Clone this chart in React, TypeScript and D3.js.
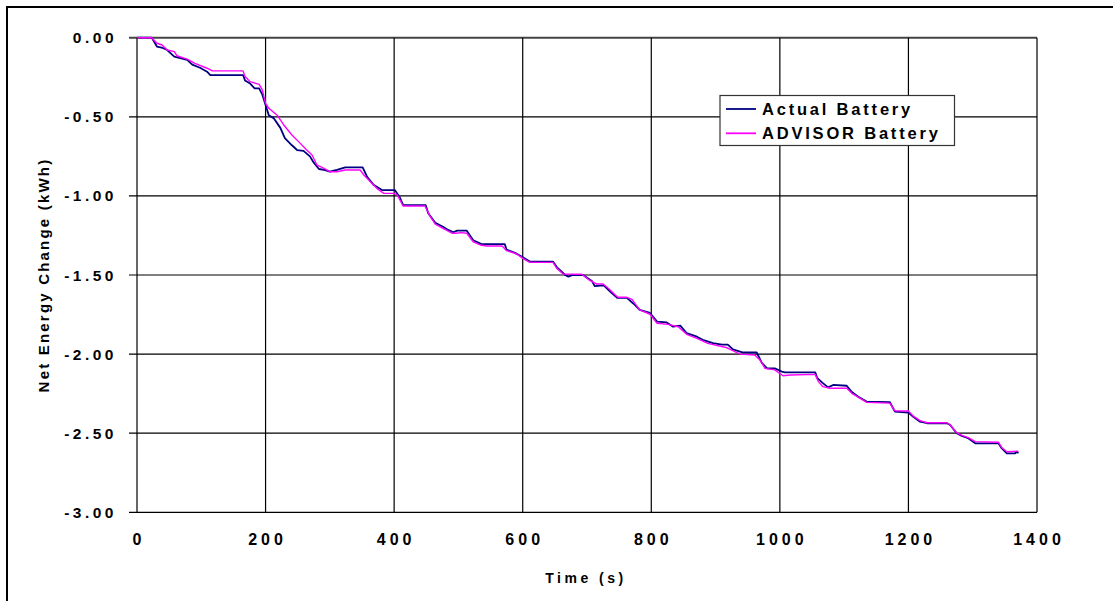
import React from "react";
import * as d3 from "d3";

const actualTime = [0,23,31,40,47,58,78,86,98,109,114,165,168,176,183,190,195,200,205,213,223,230,241,249,259,269,275,283,291,300,311,324,351,358,368,381,401,409,414,449,453,464,476,484,492,498,513,523,536,572,575,588,599,611,647,653,666,671,678,694,708,712,726,736,747,762,772,782,798,809,824,834,845,855,871,880,896,910,919,927,943,964,972,980,992,1003,1008,1055,1058,1066,1075,1083,1104,1112,1122,1135,1171,1179,1200,1207,1218,1229,1260,1265,1275,1283,1293,1304,1340,1345,1353,1366,1369,1371];
const actualEnergy = [0,0,-0.056,-0.065,-0.078,-0.12,-0.14,-0.17,-0.19,-0.215,-0.236,-0.236,-0.27,-0.29,-0.32,-0.32,-0.36,-0.425,-0.49,-0.51,-0.57,-0.635,-0.68,-0.71,-0.715,-0.75,-0.79,-0.83,-0.835,-0.847,-0.836,-0.82,-0.82,-0.88,-0.93,-0.963,-0.963,-1.01,-1.058,-1.058,-1.11,-1.17,-1.195,-1.215,-1.23,-1.22,-1.22,-1.28,-1.305,-1.305,-1.34,-1.36,-1.385,-1.415,-1.415,-1.45,-1.5,-1.51,-1.5,-1.5,-1.54,-1.57,-1.565,-1.605,-1.645,-1.645,-1.68,-1.72,-1.74,-1.795,-1.8,-1.827,-1.82,-1.867,-1.89,-1.91,-1.93,-1.94,-1.94,-1.97,-1.99,-1.99,-2.055,-2.09,-2.09,-2.11,-2.115,-2.115,-2.15,-2.18,-2.21,-2.195,-2.2,-2.24,-2.27,-2.3,-2.303,-2.364,-2.37,-2.395,-2.427,-2.437,-2.437,-2.448,-2.5,-2.517,-2.532,-2.564,-2.564,-2.595,-2.627,-2.627,-2.617,-2.627];

const advisorTime = [0,23,31,39,47,58,62,78,90,109,117,165,168,176,190,195,200,205,218,228,241,254,264,272,280,288,300,311,324,347,353,363,373,384,400,405,414,448,456,464,476,490,495,505,513,523,534,544,568,575,591,600,611,647,653,663,692,702,715,725,733,744,748,762,770,782,798,809,826,842,855,871,888,918,938,961,969,977,992,1005,1016,1055,1060,1067,1078,1104,1112,1125,1135,1171,1179,1200,1207,1218,1229,1260,1265,1275,1283,1293,1304,1340,1345,1353,1371];
const advisorEnergy = [0,0,-0.035,-0.046,-0.078,-0.088,-0.114,-0.135,-0.162,-0.193,-0.21,-0.21,-0.246,-0.278,-0.295,-0.33,-0.415,-0.446,-0.49,-0.55,-0.615,-0.668,-0.71,-0.74,-0.805,-0.82,-0.847,-0.847,-0.836,-0.836,-0.868,-0.91,-0.952,-0.984,-0.984,-0.995,-1.064,-1.064,-1.13,-1.178,-1.205,-1.236,-1.236,-1.232,-1.236,-1.29,-1.31,-1.317,-1.317,-1.346,-1.367,-1.395,-1.42,-1.42,-1.458,-1.494,-1.495,-1.527,-1.557,-1.557,-1.584,-1.626,-1.641,-1.641,-1.654,-1.72,-1.748,-1.805,-1.812,-1.827,-1.875,-1.9,-1.932,-1.96,-2.0,-2.006,-2.037,-2.09,-2.1,-2.137,-2.132,-2.128,-2.174,-2.206,-2.216,-2.216,-2.248,-2.28,-2.305,-2.31,-2.358,-2.36,-2.39,-2.42,-2.434,-2.434,-2.448,-2.497,-2.514,-2.528,-2.553,-2.557,-2.59,-2.617,-2.613];

const xTicks = [0, 200, 400, 600, 800, 1000, 1200, 1400];
const yTicks = [0, -0.5, -1, -1.5, -2, -2.5, -3];
const seriesNames = ["Actual Battery", "ADVISOR Battery"];
const seriesColors = ["#000080", "#FF00FF"];

export default function App() {
  const W = 1113, H = 601;
  const x = d3.scaleLinear().domain([0, 1400]).range([137, 1037]);
  const y = d3.scaleLinear().domain([0, -3]).range([37.7, 512.3]);
  const line = d3
    .line<[number, number]>()
    .x((d) => x(d[0]))
    .y((d) => y(d[1]));
  const actual: [number, number][] = actualTime.map((t, i) => [t, actualEnergy[i]]);
  const advisor: [number, number][] = advisorTime.map((t, i) => [t, advisorEnergy[i]]);
  const font = "'Liberation Sans', Arial, sans-serif";

  return (
    <svg
      width={W}
      height={H}
      style={{ position: "absolute", left: 0, top: 0, background: "#fff" }}
    >
      <rect x={0} y={0} width={W} height={H} fill="#fff" />
      <path d={`M7,${H + 5} L7,7 L${W + 5},7`} fill="none" stroke="#000" strokeWidth={2} />

      {yTicks.map((t) => (
        <g key={"y" + t}>
          <line x1={129} x2={1037} y1={y(t)} y2={y(t)} stroke={t === 0 ? "#444" : "#000"} strokeWidth={t === 0 ? 2 : 1.2} />
          <text
            x={117}
            y={y(t) + 5.5}
            textAnchor="end"
            fontFamily={font}
            fontWeight="bold"
            fontSize={15.5}
            letterSpacing={3.5}
            fill="#000"
          >
            {t.toFixed(2)}
          </text>
        </g>
      ))}

      {xTicks.map((t) => (
        <g key={"x" + t}>
          <line x1={x(t)} x2={x(t)} y1={y(0)} y2={y(-3)} stroke="#000" strokeWidth={1.2} />
          <text
            x={x(t) + 2}
            y={545}
            textAnchor="middle"
            fontFamily={font}
            fontWeight="bold"
            fontSize={16}
            letterSpacing={4}
            fill="#000"
          >
            {t}
          </text>
        </g>
      ))}

      <path d={line(actual) || ""} fill="none" stroke={seriesColors[0]} strokeWidth={1.8} strokeLinejoin="round" />
      <path d={line(advisor) || ""} fill="none" stroke={seriesColors[1]} strokeWidth={1.4} strokeLinejoin="round" />

      <rect x={720} y={95.5} width={234.5} height={50} fill="#fff" stroke="#333" strokeWidth={1.2} />
      {seriesNames.map((n, i) => (
        <g key={n}>
          <line x1={726} x2={756} y1={109 + i * 24.3} y2={109 + i * 24.3} stroke={seriesColors[i]} strokeWidth={1.8} />
          <text
            x={762}
            y={115 + i * 24.3}
            fontFamily={font}
            fontWeight="bold"
            fontSize={16.5}
            letterSpacing={2.8}
            fill="#000"
          >
            {n}
          </text>
        </g>
      ))}

      <text
        x={586}
        y={583}
        textAnchor="middle"
        fontFamily={font}
        fontWeight="bold"
        fontSize={14}
        letterSpacing={3.5}
        fill="#000"
      >
        Time (s)
      </text>
      <text
        transform={`translate(49, 275) rotate(-90)`}
        textAnchor="middle"
        fontFamily={font}
        fontWeight="bold"
        fontSize={15}
        letterSpacing={2.2}
        fill="#000"
      >
        Net Energy Change (kWh)
      </text>
    </svg>
  );
}
